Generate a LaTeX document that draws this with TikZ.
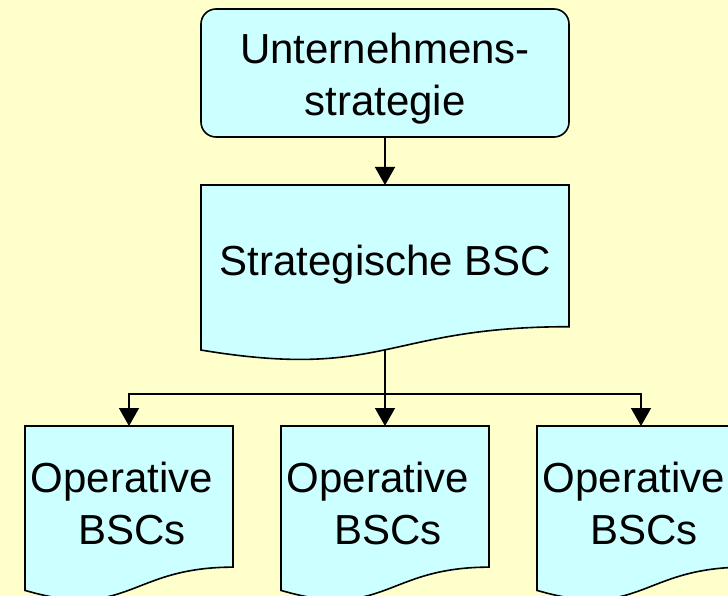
\documentclass[tikz,border=0pt]{standalone}
\usepackage{fontspec}
\setmainfont{Liberation Sans}
\usetikzlibrary{arrows.meta,calc}
\definecolor{bg}{HTML}{FFFFCC}
\definecolor{boxfill}{HTML}{CCFFFF}
\tikzset{
  lbl/.style={font=\fontsize{42}{52}\selectfont, align=center, inner sep=0pt, outer sep=0pt},
  frame/.style={draw=none, inner sep=0pt, outer sep=0pt, anchor=north},
  outline/.style={draw=black, fill=boxfill, line width=1.6pt, line join=miter},
  conn/.style={draw=black, line width=1.5pt, -{Triangle[width=20pt,length=18pt]}},
}
\newcommand\docpath[3]{% node name, width, height
  \path[outline] (#1.north west) -- (#1.north east) -- ([yshift=-0.802*#3]#1.north east)
    .. controls ([xshift=-0.5*#2,yshift=-0.802*#3]#1.north east) and ([xshift=0.5*#2,yshift=-1.107*#3]#1.north west)
    .. ([yshift=-0.934*#3]#1.north west) -- cycle;}
\newcommand\optext{Operative\hspace*{10pt}\\\hspace*{10pt}BSCs}
\begin{document}
\begin{tikzpicture}[x=1pt,y=-1pt]
  \useasboundingbox (0,0) rectangle (728,596);
  \clip (0,0) rectangle (728,596);
  \fill[bg] (0,0) rectangle (728,596);

  % top rounded box
  \node[outline, rounded corners=15pt, minimum width=368pt, minimum height=128pt, inner sep=0pt, outer sep=0pt] (top) at (385,73) {};
  \node[lbl] (toptext) at (385,78.5) {Unternehmens-\\strategie};

  % strategic BSC
  \node[frame, minimum width=368pt, minimum height=176.7pt] (sbsc) at (385,185) {};
  \docpath{sbsc}{368pt}{176.7pt}
  \node[lbl, anchor=base] (sbsctext) at (385.5,275) {Strategische BSC};
  \coordinate (sbscbot) at ([yshift=-0.933*176.7pt]sbsc.north);

  % operative BSCs
  \node[frame, minimum width=208pt, minimum height=176pt] (op1) at (129,426) {};
  \node[frame, minimum width=208pt, minimum height=176pt] (op2) at (385,426) {};
  \node[frame, minimum width=208pt, minimum height=176pt] (op3) at (641,426) {};
  \docpath{op1}{208pt}{176pt}
  \docpath{op2}{208pt}{176pt}
  \docpath{op3}{208pt}{176pt}
  \node[lbl] (op1text) at (127,503) {\optext};
  \node[lbl] (op2text) at (383,503) {\optext};
  \node[lbl] (op3text) at (639,503) {\optext};

  % connectors
  \coordinate (jy) at (0,394);
  \coordinate (jn) at (sbscbot |- jy);
  \draw[conn] (top.south) -- (sbsc.north);
  \draw[conn] (sbscbot) -- (op2.north);
  \draw[conn] (jn) -| (op1.north);
  \draw[conn] (jn) -| (op3.north);
\end{tikzpicture}
\end{document}
